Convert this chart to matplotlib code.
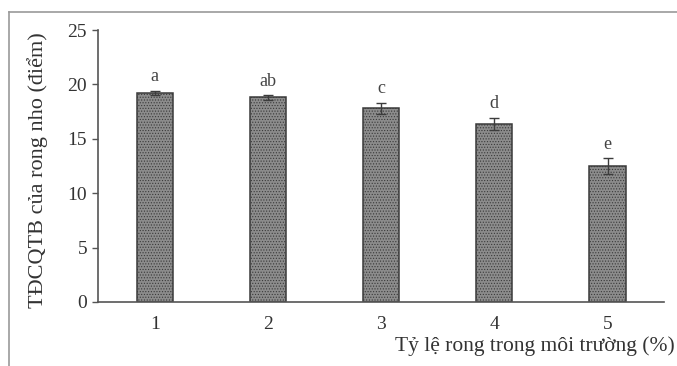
"""Mean sensory score of sea grapes by seaweed ratio in medium."""

import matplotlib.pyplot as plt
from matplotlib.lines import Line2D

ratios = ["1", "2", "3", "4", "5"]
scores = [19.2, 18.8, 17.8, 16.4, 12.5]
errors = [0.2, 0.2, 0.5, 0.55, 0.7]
groups = ["a", "ab", "c", "d", "e"]
y_ticks = [0, 5, 10, 15, 20, 25]

plt.rcParams["font.family"] = ["Liberation Serif", "DejaVu Serif"]
plt.rcParams["hatch.color"] = "#6a6a6a"
plt.rcParams["hatch.linewidth"] = 0.5

fig = plt.figure(figsize=(6.77, 3.66), dpi=100)
ax = fig.add_axes([0.145, 0.175, 0.836, 0.743])

x = list(range(1, len(ratios) + 1))
ax.bar(x, scores, width=0.32, color="#8c8c8c", edgecolor="#3a3a3a",
       linewidth=1.1, hatch="......", zorder=2)
ax.errorbar(x, scores, yerr=errors, fmt="none", ecolor="#3c3c3c",
            elinewidth=1.0, capsize=3.5, capthick=1.0, zorder=3)

for xi, v, e, g in zip(x, scores, errors, groups):
    ax.text(xi, v + e + 0.5, g, ha="center", va="bottom", fontsize=13,
            color="#444444")

ax.set_xlim(0.5, 5.5)
ax.set_ylim(0, 25)
ax.set_yticks(y_ticks)
ax.set_xticks(x)
ax.set_xticklabels(ratios)

for side in ("top", "right"):
    ax.spines[side].set_visible(False)
for side in ("left", "bottom"):
    ax.spines[side].set_color("#555555")
    ax.spines[side].set_linewidth(1.2)

ax.tick_params(axis="y", length=4, width=1, color="#555555", pad=4,
               labelsize=14, labelcolor="#333333")
ax.tick_params(axis="x", length=0, pad=10, labelsize=14, labelcolor="#333333")

fig.text(0.055, 1 - 170 / 366, "TĐCQTB của rong nho (điểm)", rotation=90,
         ha="center", va="center", fontsize=16, color="#333333")
fig.text(0.997, 1 - 346 / 366, "Tỷ lệ rong trong môi trường (%)",
         ha="right", va="center", fontsize=15.5, color="#333333")

# outer frame lines of the original figure box
fig.add_artist(Line2D([9 / 677, 1.0], [1 - 12 / 366, 1 - 12 / 366],
                      color="#9a9a9a", linewidth=1.2))
fig.add_artist(Line2D([9 / 677, 9 / 677], [0, 1 - 12 / 366],
                      color="#9a9a9a", linewidth=1.2))

fig.savefig("out.png", dpi=100)
